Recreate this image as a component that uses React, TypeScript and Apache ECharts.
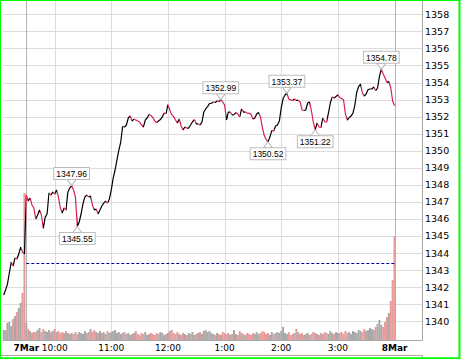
import React, { useEffect, useRef } from 'react';
import * as echarts from 'echarts';

// ---- data (2-minute samples starting 9:06) ----
const startTime = '9:06';
const stepMinutes = 2;

const pricesPreOpen = [1341.54, 1341.83, 1342.18, 1342.83, 1343.47, 1343.24, 1343.71, 1343.65, 1343.94, 1344.35, 1344.06, 1343.95];
const prices0930 = [1347.40, 1347.05, 1347.23, 1346.82, 1346.64, 1346.00, 1346.23, 1346.52, 1346.23, 1345.45, 1346.11, 1346.29, 1347.52, 1347.40, 1347.58, 1347.46];
const prices1000 = [1347.70, 1347.29, 1346.64, 1346.35, 1346.64, 1346.52, 1347.58, 1347.81, 1347.96, 1347.70, 1347.29, 1345.55, 1345.82, 1346.29, 1346.88, 1347.29, 1347.40, 1347.29, 1347.35, 1346.82, 1346.52, 1346.58, 1346.29, 1346.52, 1346.76, 1346.93, 1347.05, 1346.93, 1347.17, 1347.70];
const prices1100 = [1348.40, 1348.87, 1349.46, 1350.04, 1350.51, 1351.42, 1351.39, 1351.51, 1351.92, 1352.04, 1351.74, 1351.85, 1351.80, 1351.74, 1351.68, 1351.51, 1351.39, 1351.80, 1351.92, 1352.12, 1352.07, 1351.95, 1351.74, 1351.66, 1351.74, 1351.83, 1351.98, 1352.21, 1352.18, 1352.70];
const prices1200 = [1352.39, 1352.10, 1352.00, 1351.80, 1351.63, 1351.86, 1351.45, 1351.22, 1351.39, 1351.33, 1351.33, 1351.51, 1351.70, 1351.83, 1351.57, 1351.57, 1351.51, 1351.68, 1352.27, 1352.45, 1352.59, 1352.77, 1352.78, 1352.86, 1352.83, 1352.92, 1352.89, 1352.99, 1352.86, 1352.68];
const prices1300 = [1351.80, 1352.27, 1352.27, 1352.10, 1352.12, 1352.24, 1352.15, 1351.98, 1352.45, 1352.27, 1352.27, 1352.21, 1352.19, 1352.15, 1351.86, 1351.92, 1352.15, 1352.24, 1351.98, 1351.36, 1350.89, 1350.66, 1350.52, 1350.80, 1351.18, 1351.16, 1351.45, 1351.51, 1351.74, 1352.51];
const prices1400 = [1353.06, 1353.27, 1353.37, 1353.03, 1352.98, 1352.95, 1353.03, 1352.95, 1352.95, 1352.86, 1352.39, 1352.36, 1352.39, 1352.80, 1352.86, 1352.33, 1351.68, 1351.22, 1351.63, 1351.39, 1351.36, 1351.92, 1351.70, 1351.68, 1352.21, 1352.80, 1353.15, 1353.09, 1353.18, 1353.27];
const prices1500 = [1353.12, 1353.06, 1352.98, 1352.15, 1351.80, 1351.95, 1352.04, 1352.21, 1352.68, 1353.44, 1353.77, 1353.91, 1353.38, 1353.21, 1353.33, 1353.59, 1353.62, 1353.62, 1353.74, 1353.53, 1353.68, 1354.35, 1354.78, 1354.50, 1354.27, 1354.00, 1354.06, 1353.68, 1352.92, 1352.64];

const volPreOpen = [10, 10, 17, 18, 14, 21, 24, 28, 32, 37, 47, 147];
const vol0930 = [17, 11, 9, 7, 8, 8, 10, 12, 8, 11, 9, 8, 10, 8, 9, 11];
const vol1000 = [8, 9, 7, 8, 7, 9, 7, 6, 7, 6, 8, 6, 8, 7, 6, 9, 7, 8, 11, 8, 10, 8, 7, 9, 7, 8, 6, 9, 7, 8];
const vol1100 = [9, 10, 7, 8, 6, 7, 8, 6, 7, 5, 6, 7, 9, 6, 5, 7, 6, 8, 5, 6, 7, 6, 5, 7, 6, 8, 7, 5, 6, 7];
const vol1200 = [9, 10, 7, 6, 8, 6, 5, 7, 6, 5, 7, 6, 8, 5, 6, 7, 8, 6, 9, 10, 8, 9, 7, 6, 5, 7, 6, 5, 8, 7];
const vol1300 = [6, 7, 5, 6, 10, 6, 5, 9, 7, 6, 5, 7, 6, 5, 7, 6, 8, 6, 7, 9, 8, 6, 7, 5, 8, 6, 7, 8, 7, 9];
const vol1400 = [13, 7, 6, 8, 5, 6, 7, 11, 8, 6, 7, 5, 6, 7, 5, 6, 8, 7, 6, 5, 7, 6, 8, 7, 6, 9, 7, 6, 8, 7];
const vol1500 = [7, 8, 6, 9, 7, 8, 6, 9, 8, 7, 10, 9, 8, 11, 9, 10, 12, 11, 10, 13, 16, 20, 15, 13, 18, 23, 27, 39, 60, 104];

const prevClose = 1343.4;

const tickTimes = ['9:30', '10:00', '11:00', '12:00', '13:00', '14:00', '15:00', '16:00'];
const tickLabels = ['7Mar', '10:00', '11:00', '12:00', '1:00', '2:00', '3:00', '8Mar'];
const dayTicks = ['7Mar', '8Mar'];

const priceTickMin = 1340;
const priceTickMax = 1358;

const annotationTimes = ['10:18', '10:24', '12:56', '13:46', '14:06', '14:36', '15:46'];
const annotationSides = ['top', 'bottom', 'top', 'bottom', 'top', 'bottom', 'top'];

// ---- helpers ----
const toMinutes = (s: string) => {
  const [h, m] = s.split(':').map(Number);
  return (h - 9) * 60 + m;
};

const X_MIN = 5.3;
const X_MAX = 449.1;
const Y_MIN = 1338.9;
const Y_MAX = 1358.84;
const VOL_MAX = 340;

export default function App() {
  const ref = useRef<HTMLDivElement>(null);

  useEffect(() => {
    document.body.style.margin = '0';
    const chart = echarts.init(ref.current!, null, { renderer: 'svg' });

    const prices = [...pricesPreOpen, ...prices0930, ...prices1000, ...prices1100, ...prices1200, ...prices1300, ...prices1400, ...prices1500];
    const volumes = [...volPreOpen, ...vol0930, ...vol1000, ...vol1100, ...vol1200, ...vol1300, ...vol1400, ...vol1500];
    const t0 = toMinutes(startTime);
    const times = prices.map((_, i) => t0 + i * stepMinutes);

    const RED = '#d81e4a';
    const BLACK = '#000000';

    // direction-coloured line via piecewise visual map on x
    const pieces: any[] = [];
    for (let i = 0; i < prices.length - 1; i++) {
      const color = prices[i + 1] >= prices[i] ? BLACK : RED;
      const last = pieces[pieces.length - 1];
      if (last && last.color === color) last.lt = times[i + 1];
      else pieces.push({ gte: times[i], lt: times[i + 1], color });
    }
    pieces[pieces.length - 1].lt = times[times.length - 1] + 1;

    const volData = volumes.map((v, i) => ({
      value: [times[i], v],
      itemStyle: { color: i > 0 && prices[i] < prices[i - 1] ? '#e69a9a' : '#a8a8a8' },
    }));

    const tickMinutes = tickTimes.map(toMinutes);
    const labelMap: Record<number, string> = {};
    tickMinutes.forEach((m, i) => (labelMap[m] = tickLabels[i]));

    const priceTicks: number[] = [];
    for (let v = priceTickMin; v <= priceTickMax; v++) priceTicks.push(v);

    const markPoints = annotationTimes.map((ts, i) => {
      const t = toMinutes(ts);
      const idx = times.indexOf(t);
      const v = prices[idx];
      const top = annotationSides[i] === 'top';
      return {
        coord: [t, v],
        value: v.toFixed(2),
        symbol: top ? 'path://M0,0 L10,0 L5,7 Z' : 'path://M5,0 L10,7 L0,7 Z',
        symbolSize: [9, 6],
        symbolOffset: [0, top ? -3 : 3],
        itemStyle: { color: '#ffffff', borderColor: '#bdbdbd', borderWidth: 1 },
        label: {
          show: true,
          position: top ? 'top' : 'bottom',
          distance: 0,
        },
      };
    });

    const option: any = {
      animation: false,
      grid: { left: 0, right: 39, top: 0, bottom: 19, containLabel: false },
      visualMap: {
        type: 'piecewise',
        show: false,
        seriesIndex: 3,
        dimension: 0,
        pieces,
        outOfRange: { color: BLACK },
      },
      xAxis: {
        type: 'value',
        min: X_MIN,
        max: X_MAX,
        minInterval: 30,
        maxInterval: 30,
        axisLine: { show: true, lineStyle: { color: '#a8a8a8', width: 1 } },
        axisTick: { show: false },
        splitLine: { show: false },
        axisLabel: {
          margin: 3,
          fontFamily: 'DejaVu Sans',
          fontSize: 9,
          color: '#000',
          formatter: (val: number) => {
            const key = Math.round(val * 1000) / 1000;
            const s = labelMap[key];
            if (!s) return '';
            return dayTicks.includes(s) ? `{b|${s}}` : s;
          },
          rich: {
            b: { fontFamily: 'DejaVu Sans', fontSize: 9, fontWeight: 'bold', color: '#000' },
          },
        },
      },
      yAxis: [
        {
          type: 'value',
          position: 'right',
          min: Y_MIN,
          max: Y_MAX,
          minInterval: 1,
          maxInterval: 1,
          axisLine: { show: true, lineStyle: { color: '#a8a8a8', width: 1 } },
          axisTick: { show: false },
          splitLine: { show: false },
          axisLabel: {
            margin: 3,
            fontFamily: 'DejaVu Sans',
            fontSize: 9.5,
            color: '#000',
            formatter: (val: number) =>
              Number.isInteger(val) && val >= priceTickMin && val <= priceTickMax ? String(val) : '',
          },
        },
        {
          type: 'value',
          min: 0,
          max: VOL_MAX,
          show: false,
          splitLine: { show: false },
        },
      ],
      graphic: [
        {
          type: 'line',
          silent: true,
          shape: { x1: 0, y1: 355.5, x2: 422.5, y2: 355.5 },
          style: { stroke: '#a8a8a8', lineWidth: 1 },
        },
        {
          type: 'line',
          silent: true,
          shape: { x1: 422.5, y1: 355.5, x2: 422.5, y2: 359 },
          style: { stroke: '#a8a8a8', lineWidth: 1 },
        },
        {
          type: 'rect',
          silent: true,
          z: 100,
          shape: { x: 0, y: 0, width: 459.5, height: 358.3 },
          style: { fill: 'none', stroke: '#00ff00', lineWidth: 2 },
        },
      ],
      series: [
        {
          // horizontal grid lines
          type: 'custom',
          silent: true,
          z: 0,
          data: priceTicks.map((v) => [X_MIN, v]),
          renderItem: (params: any, api: any) => {
            const cs = params.coordSys;
            const y = Math.round(api.coord([X_MIN, api.value(1)])[1]) + 0.5;
            return {
              type: 'line',
              shape: { x1: cs.x, y1: y, x2: cs.x + cs.width, y2: y },
              style: { stroke: '#dcdcdc', lineWidth: 1 },
            };
          },
        },
        {
          // vertical grid lines
          type: 'custom',
          silent: true,
          z: 0,
          data: tickMinutes.map((m) => [m, Y_MIN]),
          renderItem: (params: any, api: any) => {
            const cs = params.coordSys;
            const x = Math.round(api.coord([api.value(0), Y_MIN])[0]) + 0.5;
            const isDay = dayTicks.includes(tickLabels[params.dataIndex]);
            return {
              type: 'line',
              shape: { x1: x, y1: cs.y, x2: x, y2: cs.y + cs.height },
              style: { stroke: isDay ? '#b4b4b4' : '#dcdcdc', lineWidth: 1 },
            };
          },
        },
        {
          type: 'bar',
          yAxisIndex: 1,
          barWidth: 2,
          z: 2,
          silent: true,
          data: volData,
        },
        {
          type: 'line',
          z: 4,
          silent: true,
          showSymbol: false,
          symbol: 'none',
          lineStyle: { width: 1.2 },
          data: times.map((t, i) => [t, prices[i]]),
          markLine: {
            silent: true,
            symbol: 'none',
            label: { show: false },
            lineStyle: { type: [3, 2], color: '#00009c', width: 1 },
            data: [[{ coord: [tickMinutes[0], prevClose] }, { coord: [tickMinutes[tickMinutes.length - 1], prevClose] }]],
          },
          markPoint: {
            silent: true,
            label: {
              show: true,
              formatter: (p: any) => p.value,
              fontFamily: 'Liberation Sans',
              fontSize: 8.5,
              lineHeight: 10,
              color: '#000',
              backgroundColor: '#ffffff',
              borderColor: '#bdbdbd',
              borderWidth: 1,
              padding: [1, 2, 0, 2],
            },
            data: markPoints,
          },
        },
      ],
    };

    chart.setOption(option);
    return () => chart.dispose();
  }, []);

  return <div ref={ref} style={{ width: 461, height: 359 }} />;
}
